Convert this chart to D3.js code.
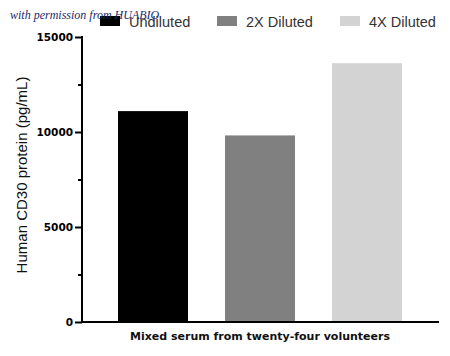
<!DOCTYPE html>
<html><head><meta charset="utf-8">
<script src="https://cdn.jsdelivr.net/npm/d3@7"></script>
<style>body{margin:0;background:#fff}</style>
</head><body>
<svg id="c" width="450" height="356"></svg>
<script>
const categories = ["Undiluted", "2X Diluted", "4X Diluted"];
const values = [11100, 9820, 13620];
const colors = ["#000000", "#808080", "#d3d3d3"];
const yTicks = [0, 5000, 10000, 15000];
const yMinorTicks = [2500, 7500, 12500];
const xLabel = "Mixed serum from twenty-four volunteers";
const yLabel = "Human CD30 protein (pg/mL)";
const watermark = "with permission from HUABIO";

const svg = d3.select("#c");
const x0 = 82, x1 = 439, yTop = 37, yBot = 322;
const y = d3.scaleLinear().domain([0, 15000]).range([yBot, yTop]);
const x = d3.scaleBand().domain(categories).range([118, 402]).paddingInner(37 / 107).paddingOuter(0);

// bars
svg.selectAll("rect.bar").data(values).enter().append("rect")
  .attr("x", (d, i) => x(categories[i]))
  .attr("width", x.bandwidth())
  .attr("y", d => y(d))
  .attr("height", d => yBot - y(d))
  .attr("fill", (d, i) => colors[i]);

// y axis
const yAxis = d3.axisLeft(y).tickValues(yTicks).tickSize(7).tickFormat(d3.format("d"));
const gy = svg.append("g").attr("transform", `translate(${x0},0)`).call(yAxis);
gy.select(".domain").remove();
gy.selectAll(".tick line").attr("stroke", "#000").attr("stroke-width", 2);
gy.selectAll(".tick text").attr("font-family", "DejaVu Sans, sans-serif")
  .attr("font-size", 10.5).attr("font-weight", "bold").attr("fill", "#000").attr("x", -9);
const gm = svg.append("g").attr("transform", `translate(${x0},0)`)
  .call(d3.axisLeft(y).tickValues(yMinorTicks).tickSize(4).tickFormat(""));
gm.select(".domain").remove();
gm.selectAll(".tick line").attr("stroke", "#000").attr("stroke-width", 2);
svg.append("line").attr("x1", x0).attr("x2", x0).attr("y1", yTop - 1).attr("y2", yBot + 1)
  .attr("stroke", "#000").attr("stroke-width", 2);
svg.append("line").attr("x1", x0 - 1).attr("x2", x1).attr("y1", yBot).attr("y2", yBot)
  .attr("stroke", "#000").attr("stroke-width", 2);

// labels
svg.append("text").attr("x", 260).attr("y", 340).attr("text-anchor", "middle")
  .attr("font-family", "DejaVu Sans, sans-serif").attr("font-size", 11)
  .attr("font-weight", "bold").attr("fill", "#111").text(xLabel);
svg.append("text").attr("transform", `translate(27,175) rotate(-90)`)
  .attr("text-anchor", "middle").attr("font-family", "Liberation Sans, Arial, sans-serif")
  .attr("font-size", 15).attr("fill", "#111").text(yLabel);

// legend
const legX = [100, 217, 340];
const lg = svg.selectAll("g.leg").data(categories).enter().append("g")
  .attr("transform", (d, i) => `translate(${legX[i]},16)`);
lg.append("rect").attr("width", 20).attr("height", 10).attr("fill", (d, i) => colors[i]);
lg.append("text").attr("x", 29).attr("y", 10.5).attr("font-family", "Liberation Sans, Arial, sans-serif")
  .attr("font-size", 14.5).attr("fill", "#333").text(d => d);

// watermark
svg.append("text").attr("x", 10).attr("y", 19).attr("font-family", "Liberation Serif, serif")
  .attr("font-style", "italic").attr("font-size", 12).attr("fill", "#1a2a6e").text(watermark);
</script>
</body></html>
